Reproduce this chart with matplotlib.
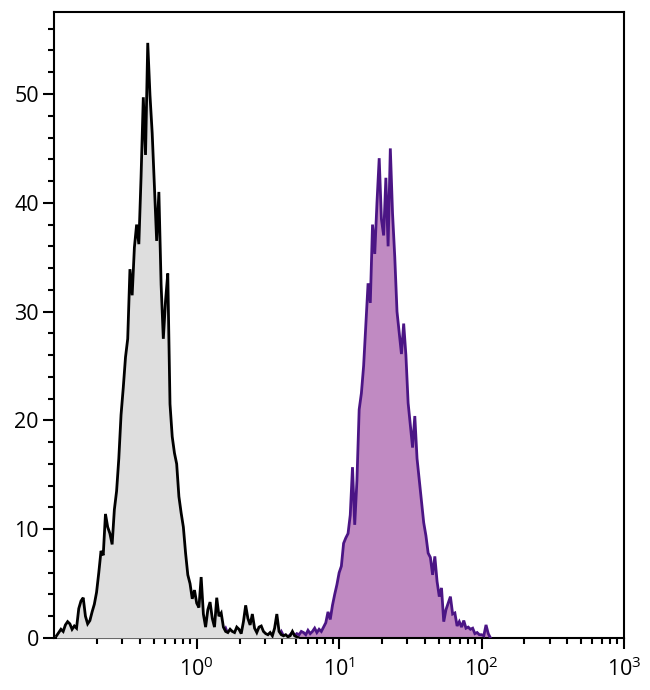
import numpy as np
import matplotlib
matplotlib.use("Agg")
import matplotlib.pyplot as plt
from matplotlib.ticker import FixedLocator, NullFormatter, MultipleLocator

plt.rcParams['font.family'] = ['Open Sans', 'DejaVu Sans']
plt.rcParams['mathtext.fontset'] = 'custom'
plt.rcParams['mathtext.rm'] = 'Open Sans'
plt.rcParams['mathtext.it'] = 'Open Sans'

# channel grid: 64 channels per decade, starting at 10^-1
CH_PER_DECADE = 64
LOG_START = -1.0

# isotype control (gray) histogram, channels 1..110
gray_start = 1
gray_counts = [
    0.2, 0.5, 0.8, 0.6, 1.2, 1.5, 1.3, 0.8, 1.1, 0.9,
    2.7, 3.4, 3.7, 2.0, 1.3, 1.6, 2.4, 3.1, 4.2, 6.0,
    8.0, 7.6, 11.4, 10.2, 9.6, 8.6, 11.8, 13.5, 16.5, 20.5,
    23.0, 25.8, 27.5, 33.9, 31.5, 35.9, 38.0, 36.2, 42.4, 49.7,
    44.4, 54.7, 49.9, 46.4, 41.5, 36.5, 41.0, 32.5, 27.5, 31.0,
    33.5, 21.5, 18.5, 17.0, 16.0, 13.0, 11.5, 10.2, 7.8, 5.8,
    5.0, 3.6, 4.4, 3.2, 2.8, 5.6, 2.2, 1.0, 2.6, 3.3,
    1.8, 1.0, 3.7, 2.0, 2.3, 1.0, 0.6, 0.5, 0.8, 0.6,
    0.5, 1.0, 0.8, 0.4, 1.5, 3.0, 1.8, 1.2, 2.2, 0.9,
    0.5, 1.0, 1.1, 0.6, 0.4, 0.3, 0.5, 0.2, 0.9, 2.2,
    0.6, 0.3, 0.2, 0.3, 0.1, 0.2, 0.6, 0.2, 0.1, 0.0,
]

# stained sample (purple) histogram, channels 20..196
purple_start = 20
purple_counts = [
    0.0, 0.0, 0.0, 0.0, 0.0, 0.3, 0.0, 0.0, 0.0, 0.0,
    0.0, 0.0, 0.0, 0.0, 0.0, 0.0, 0.0, 0.0, 0.0, 0.0,
    0.0, 0.0, 0.0, 0.0, 0.0, 0.0, 0.0, 0.0, 0.0, 0.0,
    0.0, 0.0, 0.0, 0.0, 0.0, 0.0, 0.0, 0.0, 0.0, 0.0,
    0.0, 0.0, 0.0, 0.3, 0.3, 0.0, 0.0, 0.0, 0.0, 0.0,
    0.2, 0.0, 0.0, 0.0, 0.0, 0.0, 0.6, 0.9, 0.4, 0.7,
    0.3, 0.5, 0.2, 0.3, 0.1, 0.4, 0.2, 0.6, 0.9, 0.5,
    0.3, 0.2, 0.1, 0.3, 0.2, 0.1, 0.3, 0.2, 0.1, 0.2,
    0.1, 0.3, 0.6, 0.2, 0.1, 0.1, 0.3, 0.5, 0.2, 0.4,
    0.3, 0.6, 0.5, 0.3, 0.7, 0.4, 0.6, 0.9, 0.5, 0.8,
    0.6, 1.0, 1.4, 2.4, 1.7, 3.0, 4.0, 4.9, 6.0, 6.6,
    8.7, 9.2, 9.6, 11.3, 15.7, 10.4, 14.5, 21.0, 22.5, 25.0,
    28.8, 32.6, 30.8, 38.0, 35.3, 40.0, 44.1, 38.5, 37.0, 42.3,
    36.0, 45.0, 39.0, 35.0, 30.0, 28.0, 26.1, 28.9, 26.0, 21.6,
    19.5, 17.5, 20.4, 16.5, 14.5, 12.5, 10.6, 9.4, 7.8, 7.4,
    5.8, 7.5, 5.2, 3.8, 4.6, 1.5, 2.6, 3.2, 3.8, 2.2,
    2.3, 1.1, 1.5, 1.0, 1.6, 0.9, 1.0, 0.8, 0.9, 0.4,
    0.5, 0.3, 0.3, 0.2, 1.2, 0.4, 0.0,
]

x_ticks_major = [1, 10, 100, 1000]
x_tick_labels = [r'$10^{0}$', r'$10^{1}$', r'$10^{2}$', r'$10^{3}$']
y_ticks_major = [0, 10, 20, 30, 40, 50]
x_limits = (0.1, 1000)
y_limits = (0, 57.5)


def channel_values(start, n):
    ch = np.arange(start, start + n)
    return 10 ** (LOG_START + ch / CH_PER_DECADE)


xg = channel_values(gray_start, len(gray_counts))
xp = channel_values(purple_start, len(purple_counts))
yg = np.array(gray_counts)
yp = np.array(purple_counts)

fig = plt.figure(figsize=(6.5, 6.9), dpi=100)
ax = fig.add_axes([0.0835, 0.0754, 0.8765, 0.9066])

ax.fill_between(xp, 0, yp, color='#c08ac2', linewidth=0, zorder=2)
ax.plot(xp, yp, color='#4b1585', linewidth=2.0, zorder=3, solid_joinstyle='miter')
ax.fill_between(xg, 0, yg, color='#dedede', linewidth=0, zorder=4)
ax.plot(xg, yg, color='#000000', linewidth=2.0, zorder=5, solid_joinstyle='miter')

ax.set_xscale('log')
ax.set_xlim(*x_limits)
ax.set_ylim(*y_limits)

ax.xaxis.set_major_locator(FixedLocator(x_ticks_major))
ax.set_xticklabels(x_tick_labels)
minor = [m * 10 ** d for d in range(-1, 3) for m in range(2, 10)]
ax.xaxis.set_minor_locator(FixedLocator(minor))
ax.xaxis.set_minor_formatter(NullFormatter())

ax.yaxis.set_major_locator(FixedLocator(y_ticks_major))
ax.yaxis.set_minor_locator(MultipleLocator(2))

for s in ax.spines.values():
    s.set_linewidth(1.5)
    s.set_color('black')

ax.tick_params(axis='both', which='major', direction='out', length=8, width=1.5,
               labelsize=15.5, colors='black')
ax.tick_params(axis='both', which='minor', direction='out', length=4, width=1.5)
ax.tick_params(axis='x', which='major', pad=6)
ax.tick_params(axis='y', which='major', pad=3)

fig.savefig('out.png', dpi=100)
